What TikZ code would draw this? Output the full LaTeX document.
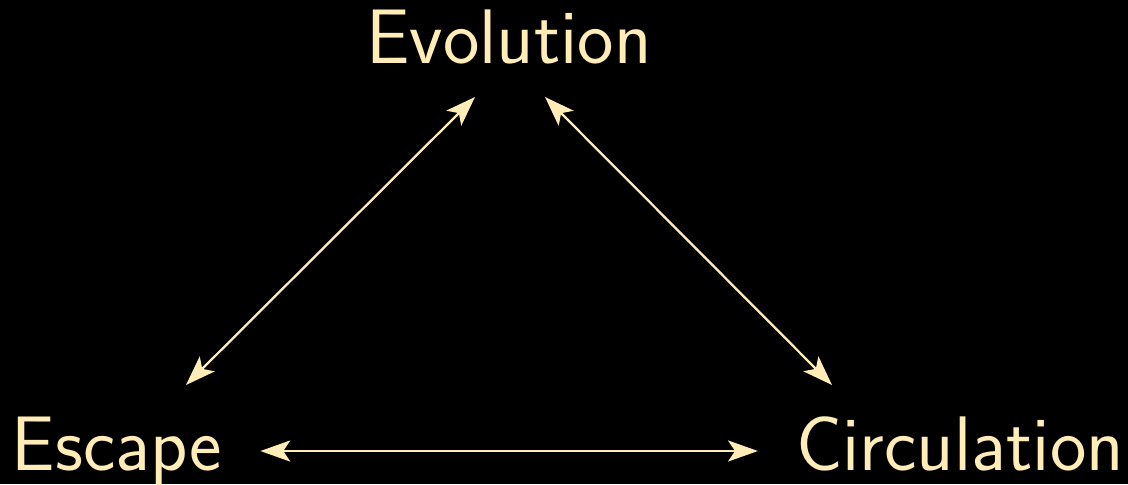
\documentclass[tikz,border=0pt]{standalone}
\usetikzlibrary{arrows.meta,calc}
\definecolor{cream}{RGB}{255,236,182}
\begin{document}
\begin{tikzpicture}[x=0.02cm,y=-0.02cm,
  lbl/.style={text=cream,inner sep=0pt,anchor=base,font=\sffamily\fontsize{44}{52}\selectfont},
  link/.style={draw=cream,line width=1.3pt,{Stealth[length=17pt,width=12pt,inset=4pt]}-{Stealth[length=17pt,width=12pt,inset=4pt]}}]
\fill[black] (0,0) rectangle (1128,484);
\useasboundingbox (0,0) rectangle (1128,484);
\node[lbl] (evo) at (509,63) {Evolution};
\node[lbl] (esc) at (117,470) {Escape};
\node[lbl] (circ) at (960,470) {Circulation};
\draw[link] ([shift={(-34,34)}]evo.base) -- ([shift={(69,-85)}]esc.base);
\draw[link] ([shift={(36,34)}]evo.base) -- ([shift={(-128,-85)}]circ.base);
\draw[link] ([shift={(38,-19)}]esc.base east) -- ([shift={(-38,-19)}]circ.base west);
\end{tikzpicture}
\end{document}
